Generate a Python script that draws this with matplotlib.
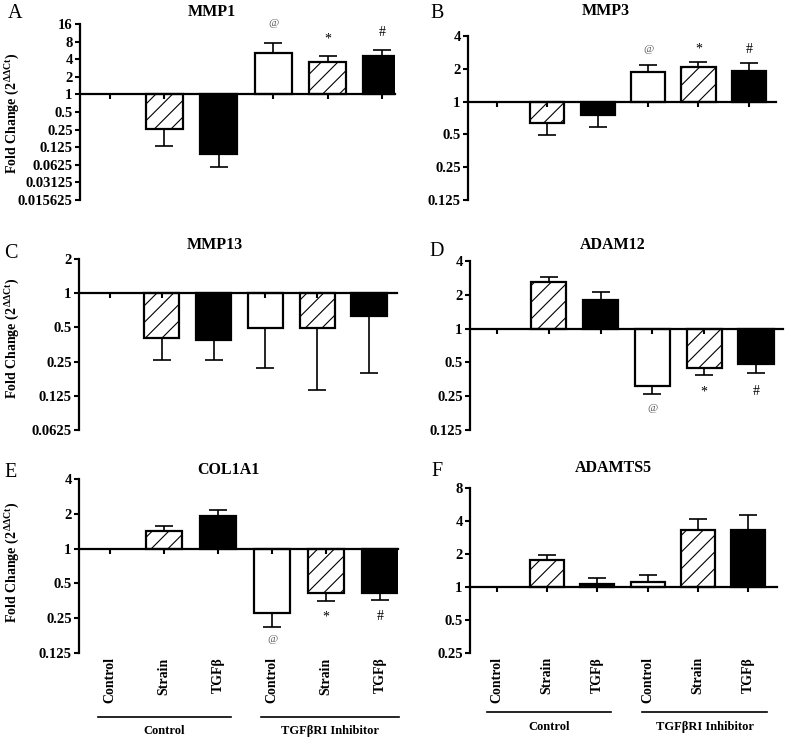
import numpy as np
import matplotlib
matplotlib.use('Agg')
import matplotlib.pyplot as plt
from matplotlib.ticker import FixedLocator, NullLocator

plt.rcParams['font.family'] = ['Liberation Serif', 'DejaVu Serif']
plt.rcParams['mathtext.fontset'] = 'custom'
plt.rcParams['mathtext.rm'] = 'Liberation Serif'
plt.rcParams['hatch.linewidth'] = 0.8

# groups / bar categories
conditions = ['Control', 'Strain', 'TGFβ', 'Control', 'Strain', 'TGFβ']
groups = ['Control', 'TGFβRI Inhibitor']

# mean fold change and end of error bar (mean +/- SEM)
mmp1_mean = [1, 0.26, 0.095, 5.2, 3.6, 4.6]
mmp1_err = [1, 0.13, 0.058, 7.7, 4.6, 5.8]
mmp3_mean = [1, 0.63, 0.76, 1.87, 2.07, 1.92]
mmp3_err = [1, 0.49, 0.59, 2.19, 2.3, 2.24]
mmp13_mean = [1, 0.40, 0.39, 0.49, 0.49, 0.63]
mmp13_err = [1, 0.26, 0.26, 0.22, 0.14, 0.20]
adam12_mean = [1, 2.6, 1.8, 0.31, 0.45, 0.48]
adam12_err = [1, 2.88, 2.1, 0.26, 0.39, 0.40]
col1a1_mean = [1, 1.43, 1.93, 0.28, 0.41, 0.41]
col1a1_err = [1, 1.56, 2.17, 0.21, 0.35, 0.36]
adamts5_mean = [1, 1.75, 1.07, 1.12, 3.28, 3.33]
adamts5_err = [1, 1.97, 1.21, 1.3, 4.2, 4.5]

# significance marks
marks = ['', '', '', '@', '*', '#']

W, H = 785, 739
fig = plt.figure(figsize=(W / 100, H / 100), dpi=100)


def px_axes(left, top, right, bottom):
    return fig.add_axes([left / W, 1 - bottom / H, (right - left) / W, (bottom - top) / H])


def ftext(x, y, s, **kw):
    fig.text(x / W, 1 - y / H, s, **kw)


face = ['white', 'white', 'black', 'white', 'white', 'black']
hatch = [None, '//', None, None, '//', None]


def draw_panel(ax, means, ends, yticks, ylabels, xlim, mark_y=None):
    x = np.arange(len(means))
    means = np.array(means)
    ends = np.array(ends)
    for i in range(len(means)):
        if means[i] == 1:
            continue
        ax.bar(x[i], means[i] - 1, bottom=1, width=0.68, color=face[i],
               edgecolor='black', hatch=hatch[i], linewidth=1.6, zorder=3)
    up = np.where(ends > means, ends - means, 0)
    lo = np.where(ends < means, means - ends, 0)
    sel = means != 1
    ax.errorbar(x[sel], means[sel], yerr=[lo[sel], up[sel]], fmt='none',
                ecolor='black', elinewidth=1.2, capsize=6.5, capthick=1.2, zorder=2)
    ax.set_yscale('log', base=2)
    ax.set_ylim(yticks[0], yticks[-1])
    ax.yaxis.set_major_locator(FixedLocator(yticks))
    ax.yaxis.set_minor_locator(NullLocator())
    ax.set_yticklabels(ylabels, fontweight='bold', fontsize=10.5)
    ax.set_xlim(*xlim)
    ax.set_xticks(x)
    ax.set_xticklabels([])
    ax.spines['top'].set_visible(False)
    ax.spines['right'].set_visible(False)
    ax.spines['bottom'].set_position(('data', 1))
    ax.spines['bottom'].set_zorder(4)
    ax.xaxis.set_zorder(4)
    for s in ['left', 'bottom']:
        ax.spines[s].set_linewidth(1.6)
    ax.tick_params(axis='both', direction='out', length=3.8, width=1.5, pad=1.5)
    if mark_y is not None:
        for i, m in enumerate(marks):
            if m:
                ax.text(x[i], mark_y[i], m, ha='center', va='center',
                        fontsize=8 if m == '@' else 10,
                        color='#555555' if m == '@' else 'black')


def draw_xlabels(ax, line_y, label_y, spans):
    x = np.arange(len(conditions))
    tr = ax.get_xaxis_transform()
    for i, c in enumerate(conditions):
        ax.text(x[i], -0.025, c, rotation=90, ha='center', va='top', transform=tr,
                fontweight='bold', fontsize=10)
    for (a, b), g in zip(spans, groups):
        ax.plot([a, b], [line_y, line_y], color='black', lw=1.2, transform=tr, clip_on=False)
        ax.text((a + b) / 2, label_y, g, ha='center', va='center', transform=tr,
                fontweight='bold', fontsize=9)


ylab = 'Fold Change (2$^{\\,\\mathregular{\\Delta\\Delta Ct}}$)'

# A - MMP1
axA = px_axes(80, 24, 395, 200)
tA = [0.015625, 0.03125, 0.0625, 0.125, 0.25, 0.5, 1, 2, 4, 8, 16]
draw_panel(axA, mmp1_mean, mmp1_err, tA,
           ['0.015625', '0.03125', '0.0625', '0.125', '0.25', '0.5', '1', '2', '4', '8', '16'],
           (-0.55, 5.24), mark_y=[1, 1, 1, 16, 8.8, 11.5])

# B - MMP3
axB = px_axes(468, 36, 776, 200)
tB = [0.125, 0.25, 0.5, 1, 2, 4]
draw_panel(axB, mmp3_mean, mmp3_err, tB, ['0.125', '0.25', '0.5', '1', '2', '4'],
           (-0.575, 5.54), mark_y=[1, 1, 1, 3.0, 3.05, 3.0])

# C - MMP13
axC = px_axes(79, 259, 397, 430)
tC = [0.0625, 0.125, 0.25, 0.5, 1, 2]
draw_panel(axC, mmp13_mean, mmp13_err, tC, ['0.0625', '0.125', '0.25', '0.5', '1', '2'],
           (-0.6, 5.54))

# D - ADAM12
axD = px_axes(470, 261, 783, 430)
tD = [0.125, 0.25, 0.5, 1, 2, 4]
draw_panel(axD, adam12_mean, adam12_err, tD, ['0.125', '0.25', '0.5', '1', '2', '4'],
           (-0.52, 5.52), mark_y=[1, 1, 1, 0.196, 0.27, 0.278])

# E - COL1A1
axE = px_axes(79, 479, 398, 653)
tE = [0.125, 0.25, 0.5, 1, 2, 4]
draw_panel(axE, col1a1_mean, col1a1_err, tE, ['0.125', '0.25', '0.5', '1', '2', '4'],
           (-0.57, 5.33), mark_y=[1, 1, 1, 0.163, 0.255, 0.26])
draw_xlabels(axE, -0.366, -0.45, [(-0.22, 2.24), (2.8, 5.35)])

# F - ADAMTS5
axF = px_axes(470, 488, 777, 653)
tF = [0.25, 0.5, 1, 2, 4, 8]
draw_panel(axF, adamts5_mean, adamts5_err, tF, ['0.25', '0.5', '1', '2', '4', '8'],
           (-0.54, 5.58))
draw_xlabels(axF, -0.36, -0.45, [(-0.2, 2.27), (2.89, 5.38)])

# titles, panel letters, y labels
for x, y, t in [(212, 12, 'MMP1'), (606, 11, 'MMP3'), (215, 245, 'MMP13'),
                (613, 245, 'ADAM12'), (228, 470, 'COL1A1'), (613, 468, 'ADAMTS5')]:
    ftext(x, y, t, ha='center', va='center', fontweight='bold', fontsize=11.5)
for x, y, t in [(15, 14, 'A'), (437, 13, 'B'), (11, 253, 'C'), (437, 252, 'D'),
                (11, 473, 'E'), (437, 472, 'F')]:
    ftext(x, y, t, ha='center', va='center', fontsize=14.5)
for y in [113, 338, 562]:
    ftext(12, y, ylab, rotation=90, ha='center', va='center', fontweight='bold', fontsize=10)

fig.savefig('out.png', dpi=100)
